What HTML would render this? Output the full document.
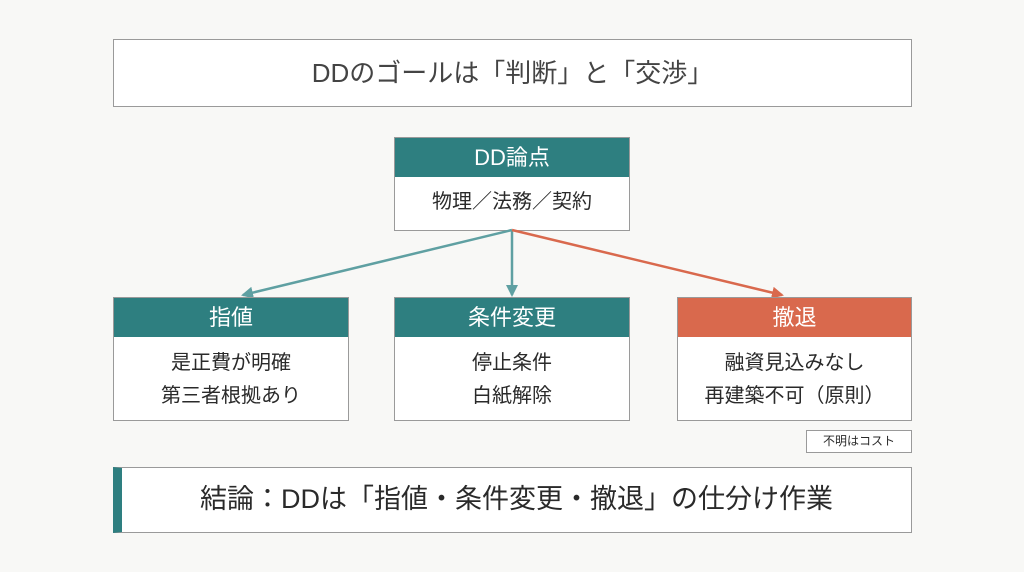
<!DOCTYPE html>
<html><head><meta charset="utf-8"><style>
body{margin:0;width:1024px;height:572px;background:#f8f8f6;position:relative;font-family:"Liberation Sans","Noto Sans CJK JP",sans-serif;color:#2a2a2a;overflow:hidden}
.b{position:absolute;box-sizing:border-box;border:1.5px solid #9a9a9a;background:#fff}
.h{position:absolute;left:0;right:0;top:0;height:39px;background:#2e7f80;color:#fff;font-size:22px;text-align:center;line-height:39px}
.t{position:absolute;left:0;right:0;text-align:center;font-size:20px;line-height:33px}
</style></head><body>
<div class="b" style="left:113px;top:39px;width:799px;height:68px;font-size:26px;text-align:center;line-height:66px;color:#444">DDのゴールは「判断」と「交渉」</div>
<div class="b" style="left:394px;top:137px;width:236px;height:94px"><div class="h">DD論点</div><div class="t" style="top:48px">物理／法務／契約</div></div>
<svg style="position:absolute;left:0;top:0" width="1024" height="572">
<defs><marker id="a" markerWidth="12" markerHeight="12" refX="10" refY="6" orient="auto" markerUnits="userSpaceOnUse"><path d="M0,0L12,6L0,12z" fill="#5fa0a2"/></marker>
<marker id="o" markerWidth="12" markerHeight="12" refX="10" refY="6" orient="auto" markerUnits="userSpaceOnUse"><path d="M0,0L12,6L0,12z" fill="#d9694d"/></marker></defs>
<line x1="512" y1="230" x2="243" y2="295" stroke="#5fa0a2" stroke-width="2.5" marker-end="url(#a)"/>
<line x1="512" y1="230" x2="512" y2="295" stroke="#5fa0a2" stroke-width="2.5" marker-end="url(#a)"/>
<line x1="512" y1="230" x2="782" y2="295" stroke="#d9694d" stroke-width="2.5" marker-end="url(#o)"/>
</svg>
<div class="b" style="left:113px;top:297px;width:236px;height:124px"><div class="h">指値</div><div class="t" style="top:49px">是正費が明確<br>第三者根拠あり</div></div>
<div class="b" style="left:394px;top:297px;width:236px;height:124px"><div class="h">条件変更</div><div class="t" style="top:49px">停止条件<br>白紙解除</div></div>
<div class="b" style="left:677px;top:297px;width:235px;height:124px"><div class="h" style="background:#d9694d">撤退</div><div class="t" style="top:49px">融資見込みなし<br>再建築不可（原則）</div></div>
<div class="b" style="left:806px;top:430px;width:106px;height:23px;font-size:12px;text-align:center;line-height:20px">不明はコスト</div>
<div class="b" style="left:113px;top:467px;width:799px;height:66px;font-size:27px;text-align:center;line-height:63px;border-left:9px solid #2e7f80">結論：DDは「指値・条件変更・撤退」の仕分け作業</div>
</body></html>
